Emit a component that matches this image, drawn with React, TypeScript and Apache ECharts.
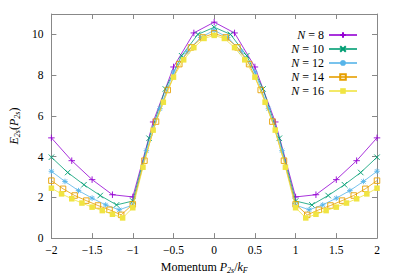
import React, { useEffect, useRef } from "react";
import * as echarts from "echarts";

const x8 = [-2, -1.75, -1.5, -1.25, -1, -0.75, -0.5, -0.25, 0, 0.25, 0.5, 0.75, 1, 1.25, 1.5, 1.75, 2];
const y8 = [4.92, 3.8, 2.87, 2.13, 2.02, 5.7, 8.4, 10.07, 10.6, 10.07, 8.4, 5.7, 2.02, 2.13, 2.87, 3.8, 4.92];

const x10 = [-2, -1.8, -1.6, -1.4, -1.2, -1, -0.8, -0.6, -0.4, -0.2, 0, 0.2, 0.4, 0.6, 0.8, 1, 1.2, 1.4, 1.6, 1.8, 2];
const y10 = [3.97, 3.22, 2.62, 2.09, 1.63, 1.82, 4.9, 7.32, 8.95, 10.0, 10.35, 10.0, 8.95, 7.32, 4.9, 1.82, 1.63, 2.09, 2.62, 3.22, 3.97];

const x12 = [-2, -1.8333, -1.6667, -1.5, -1.3333, -1.1667, -1, -0.8333, -0.6667, -0.5, -0.3333, -0.1667, 0, 0.1667, 0.3333, 0.5, 0.6667, 0.8333, 1, 1.1667, 1.3333, 1.5, 1.6667, 1.8333, 2];
const y12 = [3.28, 2.78, 2.33, 1.96, 1.63, 1.39, 1.62, 4.29, 6.35, 8.15, 9.15, 9.85, 10.2, 9.85, 9.15, 8.15, 6.35, 4.29, 1.62, 1.39, 1.63, 1.96, 2.33, 2.78, 3.28];

const x14 = [-2, -1.8571, -1.7143, -1.5714, -1.4286, -1.2857, -1.1429, -1, -0.8571, -0.7143, -0.5714, -0.4286, -0.2857, -0.1429, 0, 0.1429, 0.2857, 0.4286, 0.5714, 0.7143, 0.8571, 1, 1.1429, 1.2857, 1.4286, 1.5714, 1.7143, 1.8571, 2];
const y14 = [2.82, 2.42, 2.09, 1.84, 1.6, 1.39, 1.14, 1.66, 3.8, 5.72, 7.27, 8.54, 9.36, 9.85, 10.05, 9.85, 9.36, 8.54, 7.27, 5.72, 3.8, 1.66, 1.14, 1.39, 1.6, 1.84, 2.09, 2.42, 2.82];

const x16 = [-2, -1.875, -1.75, -1.625, -1.5, -1.375, -1.25, -1.125, -1, -0.875, -0.75, -0.625, -0.5, -0.375, -0.25, -0.125, 0, 0.125, 0.25, 0.375, 0.5, 0.625, 0.75, 0.875, 1, 1.125, 1.25, 1.375, 1.5, 1.625, 1.75, 1.875, 2];
const y16 = [2.45, 2.17, 1.93, 1.72, 1.52, 1.35, 1.17, 0.99, 1.49, 3.48, 5.3, 6.67, 7.9, 8.75, 9.35, 9.8, 9.95, 9.8, 9.35, 8.75, 7.9, 6.67, 5.3, 3.48, 1.49, 0.99, 1.17, 1.35, 1.52, 1.72, 1.93, 2.17, 2.45];

const seriesNames = ["N = 8", "N = 10", "N = 12", "N = 14", "N = 16"];
const seriesColors = ["#9400d3", "#009e73", "#56b4e9", "#e69f00", "#f0e442"];
const xTicks = [-2, -1.5, -1, -0.5, 0, 0.5, 1, 1.5, 2];
const yTicks = [0, 2, 4, 6, 8, 10];

const FONT = "'Liberation Serif', 'DejaVu Serif', serif";

const PLUS = "path://M0,4L8,4M4,0L4,8";
const CROSS = "path://M0,0L8,8M8,0L0,8";
const STAR = "path://M0,4L8,4M4,0L4,8M1,1L7,7M7,1L1,7";

export default function App() {
  const ref = useRef<HTMLDivElement>(null);
  useEffect(() => {
    if (!ref.current) return;
    const chart = echarts.init(ref.current, undefined, { renderer: "svg" });
    const xs = [x8, x10, x12, x14, x16];
    const ys = [y8, y10, y12, y14, y16];
    const symbols = [PLUS, CROSS, STAR, "rect", "rect"];
    const sizes = [6.5, 5.5, 5.5, 5.5, 5.5];
    const frame = "#888888";
    const fmtNum = (v: number) => (v < 0 ? "\u2212" + String(Math.abs(v)) : String(v));
    const series = seriesNames.map((name, i) => {
      const c = seriesColors[i];
      const open = i === 3;
      return {
        name,
        type: "line",
        data: xs[i].map((x, j) => [x, ys[i][j]]),
        symbol: symbols[i],
        symbolSize: sizes[i],
        showAllSymbol: true,
        lineStyle: { color: c, width: 1, opacity: 0.8 },
        itemStyle: {
          color: open ? "rgba(255,255,255,0)" : c,
          borderColor: c,
          borderWidth: i === 4 ? 0 : 0.9,
        },
        emphasis: { disabled: true },
        z: 2 + i,
      };
    });
    const rich = {
      i: { fontFamily: FONT, fontStyle: "italic", fontSize: 12, color: "#000" },
      n: { fontFamily: FONT, fontSize: 12, color: "#000" },
      s: { fontFamily: FONT, fontStyle: "italic", fontSize: 8, color: "#000", padding: [6, 0, 0, 0] },
    };
    chart.setOption({
      animation: false,
      textStyle: { fontFamily: FONT },
      grid: { left: 45, right: 22, top: 14, bottom: 40 },
      legend: {
        orient: "vertical",
        right: 36,
        top: 24,
        align: "right",
        itemWidth: 28,
        itemHeight: 7,
        itemGap: 2,
        selectedMode: false,
        data: seriesNames,
        formatter: (name: string) => "{i|N}{n|" + name.slice(1) + "}",
        textStyle: { fontFamily: FONT, fontSize: 12, color: "#000", rich },
      },
      xAxis: [
        {
          type: "value",
          min: -2,
          max: 2,
          interval: 0.5,
          name: "{n|Momentum }{i|P}{s|2s}{n|/}{i|k}{s|F}",
          nameLocation: "middle",
          nameGap: 20,
          nameTextStyle: { rich, padding: [0, 20, 0, 0] },
          axisLine: { show: true, onZero: false, lineStyle: { color: frame, width: 1 } },
          axisTick: { inside: true, length: 5, lineStyle: { color: frame } },
          axisLabel: {
            margin: 6,
            fontFamily: FONT,
            fontSize: 11.5,
            color: "#000",
            formatter: (v: number) => (xTicks.includes(v) ? fmtNum(v) : ""),
          },
          splitLine: { show: false },
        },
        {
          type: "value",
          position: "top",
          min: -2,
          max: 2,
          interval: 0.5,
          axisLine: { show: true, onZero: false, lineStyle: { color: frame, width: 1 } },
          axisTick: { inside: true, length: 5, lineStyle: { color: frame } },
          axisLabel: { show: false },
          splitLine: { show: false },
        },
      ],
      yAxis: [
        {
          type: "value",
          min: 0,
          max: 11,
          interval: 2,
          name: "{i|E}{s|2s}{n|(}{i|P}{s|2s}{n|)}",
          nameLocation: "middle",
          nameGap: 28,
          nameRotate: 90,
          nameTextStyle: { rich, padding: [0, 0, 0, 0] },
          axisLine: { show: true, onZero: false, lineStyle: { color: frame, width: 1 } },
          axisTick: { inside: true, length: 5, lineStyle: { color: frame } },
          axisLabel: {
            margin: 8,
            fontFamily: FONT,
            fontSize: 11.5,
            color: "#000",
            formatter: (v: number) => (yTicks.includes(v) ? String(v) : ""),
          },
          splitLine: { show: false },
        },
        {
          type: "value",
          position: "right",
          min: 0,
          max: 11,
          interval: 2,
          axisLine: { show: true, onZero: false, lineStyle: { color: frame, width: 1 } },
          axisTick: { inside: true, length: 5, lineStyle: { color: frame } },
          axisLabel: { show: false },
          splitLine: { show: false },
        },
      ],
      series,
    });
    return () => chart.dispose();
  }, []);
  return <div ref={ref} style={{ width: 399, height: 279, position: "absolute", left: 0, top: 0 }} />;
}
